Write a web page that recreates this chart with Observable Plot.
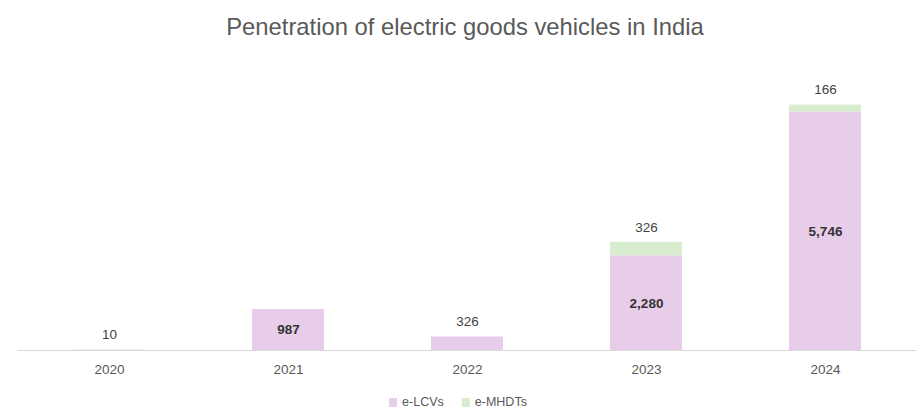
<!DOCTYPE html>
<html>
<head>
<meta charset="utf-8">
<script src="https://cdn.jsdelivr.net/npm/d3@7"></script>
<script src="https://cdn.jsdelivr.net/npm/@observablehq/plot@0.6"></script>
<style>
  html, body { margin: 0; padding: 0; background: #fff; }
  body { width: 916px; height: 410px; overflow: hidden; font-family: "Liberation Sans", Arial, sans-serif; }
  #title { height: 60px; line-height: 54px; text-align: center; font-size: 23.8px; color: #595959; padding-left: 14px; }
  #chart svg { display: block; }
  #legend { display: flex; justify-content: center; align-items: center; gap: 18px; font-size: 12.5px; color: #595959; margin-top: 5px; }
  #legend span.sw { display: inline-block; width: 8px; height: 9px; margin-right: 5px; vertical-align: middle; }
</style>
</head>
<body>
<div id="title">Penetration of electric goods vehicles in India</div>
<div id="chart"></div>
<div id="legend"></div>
<script>
const years = ["2020", "2021", "2022", "2023", "2024"];
const lcv = [10, 987, 326, 2280, 5746];
const mhdt = [0, 0, 0, 326, 166];
const seriesNames = ["e-LCVs", "e-MHDTs"];
const seriesColors = ["#e8cdea", "#d8edcf"];

const rows = [];
years.forEach((yr, i) => {
  rows.push({year: yr, series: seriesNames[0], value: lcv[i]});
  rows.push({year: yr, series: seriesNames[1], value: mhdt[i]});
});

const fmt = d3.format(",");
const insideLabels = [];
const aboveLabels = [];
years.forEach((yr, i) => {
  if (lcv[i] >= 700) insideLabels.push({year: yr, y: lcv[i] / 2, text: fmt(lcv[i])});
  else aboveLabels.push({year: yr, y: lcv[i], text: fmt(lcv[i])});
  if (mhdt[i] > 0) aboveLabels.push({year: yr, y: lcv[i] + mhdt[i], text: fmt(mhdt[i])});
});

const plot = Plot.plot({
  width: 916,
  height: 330,
  marginLeft: 17,
  marginRight: 0,
  marginTop: 41,
  marginBottom: 40,
  style: {fontFamily: "'Liberation Sans', Arial, sans-serif", background: "#fff"},
  x: {domain: years, paddingInner: 0.6, paddingOuter: 0.3, label: null},
  y: {domain: [0, 6000], axis: null},
  color: {domain: seriesNames, range: seriesColors},
  marks: [
    Plot.barY(rows, {x: "year", y: "value", fill: "series", order: seriesNames}),
    Plot.ruleY([0], {stroke: "#d9d9d9", strokeWidth: 1}),
    Plot.axisX({tickSize: 0, tickPadding: 14, fontSize: 13.5, fill: "#595959", color: "#595959"}),
    Plot.text(insideLabels, {x: "year", y: "y", text: "text", fontSize: 13.5, fill: "#333333", fontWeight: 600}),
    Plot.text(aboveLabels, {x: "year", y: "y", text: "text", fontSize: 13.5, fill: "#444444", dy: -15, fontWeight: 500})
  ]
});
document.getElementById("chart").appendChild(plot);

const legend = document.getElementById("legend");
seriesNames.forEach((n, i) => {
  const item = document.createElement("div");
  item.innerHTML = `<span class="sw" style="background:${seriesColors[i]}"></span>${n}`;
  legend.appendChild(item);
});
</script>
</body>
</html>
